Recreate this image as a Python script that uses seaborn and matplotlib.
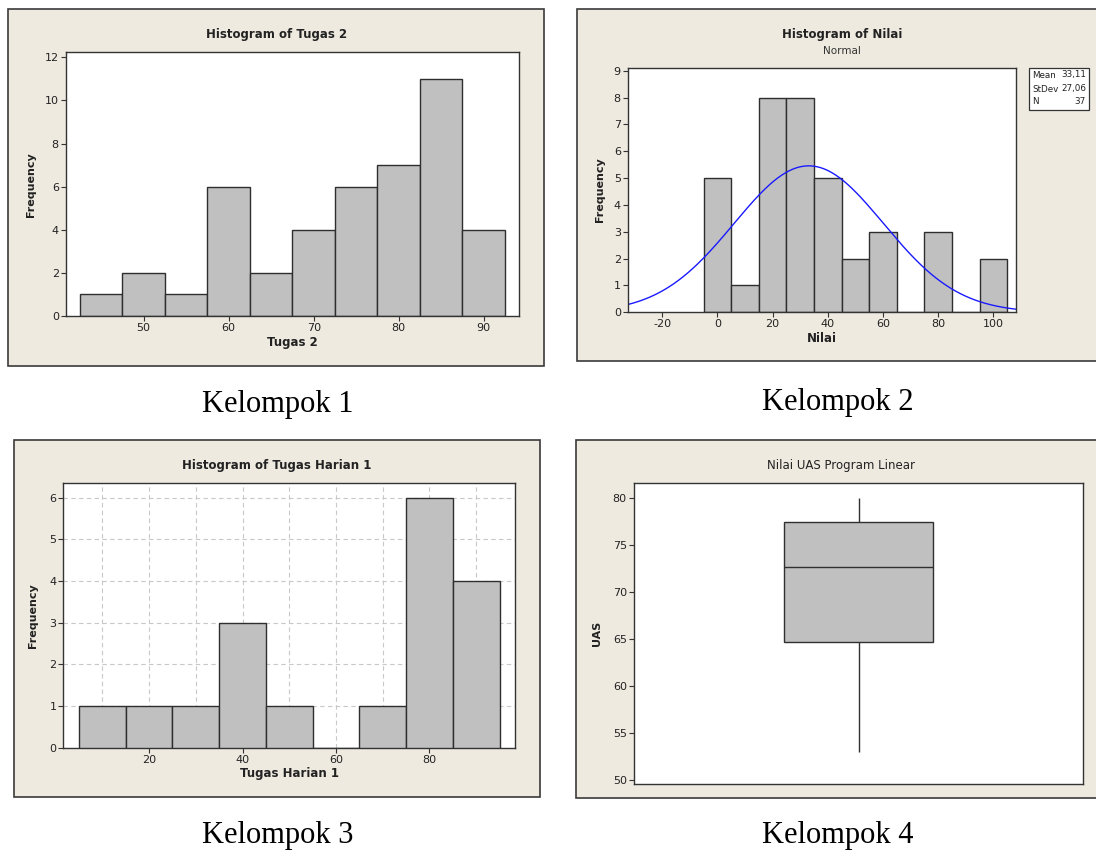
import numpy as np
import pandas as pd
import matplotlib
matplotlib.use("Agg")
import matplotlib.pyplot as plt
from matplotlib.patches import Rectangle
import seaborn as sns

# Kelompok 1 - Histogram of Tugas 2
tugas2_mid = [45, 50, 55, 60, 65, 70, 75, 80, 85, 90]
tugas2_freq = [1, 2, 1, 6, 2, 4, 6, 7, 11, 4]
tugas2_edges = [42.5, 47.5, 52.5, 57.5, 62.5, 67.5, 72.5, 77.5, 82.5, 87.5, 92.5]

# Kelompok 2 - Histogram of Nilai (Normal)
nilai_mid = [0, 10, 20, 30, 40, 50, 60, 70, 80, 90, 100]
nilai_freq = [5, 1, 8, 8, 5, 2, 3, 0, 3, 0, 2]
nilai_edges = [-5, 5, 15, 25, 35, 45, 55, 65, 75, 85, 95, 105]
nilai_mean = 33.11
nilai_sd = 27.06
nilai_n = 37

# Kelompok 3 - Histogram of Tugas Harian 1
harian_mid = [10, 20, 30, 40, 50, 60, 70, 80, 90]
harian_freq = [1, 1, 1, 3, 1, 0, 1, 6, 4]
harian_edges = [5, 15, 25, 35, 45, 55, 65, 75, 85, 95]

# Kelompok 4 - Nilai UAS Program Linear
uas = [53, 57, 60, 64.7, 66, 70, 72.7, 74, 76, 77.5, 78, 79, 80]

W, H = 1096, 852
BEIGE = "#eeeae0"
BAR = "#c0c0c0"
EDGE = "#2e2e2e"
TXT = "#222222"

sns.set_theme(style="white")
plt.rcParams["font.family"] = ["DejaVu Sans"]
plt.rcParams["axes.unicode_minus"] = False

fig = plt.figure(figsize=(W / 100, H / 100), dpi=100)
fig.patch.set_facecolor("white")


def frac(l, t, r, b):
    return [l / W, 1 - b / H, (r - l) / W, (b - t) / H]


def frame(l, t, r, b):
    fig.add_artist(Rectangle((l / W, 1 - b / H), (r - l) / W, (b - t) / H,
                             transform=fig.transFigure, facecolor=BEIGE,
                             edgecolor="#3a3a3a", lw=1.2, zorder=-5))


def style(ax):
    ax.set_facecolor("white")
    for s in ax.spines.values():
        s.set_color("#333333")
        s.set_linewidth(1.0)
        s.set_visible(True)
    ax.tick_params(axis="both", which="major", direction="out", length=3.5,
                   width=0.8, color="#333333", labelsize=8, labelcolor=TXT,
                   pad=1.5, bottom=True, left=True)


def ftext(x, y, s, **kw):
    fig.text(x / W, 1 - y / H, s, **kw)


# ---------- Kelompok 1
frame(8.3, 9.3, 544.3, 365.7)
ax1 = fig.add_axes(frac(65.7, 52.3, 519.3, 316))
sns.histplot(x=tugas2_mid, weights=tugas2_freq, bins=tugas2_edges, ax=ax1,
             color=BAR, edgecolor=EDGE, linewidth=1, alpha=1)
ax1.set_xlim(40.84, 94.18)
ax1.set_ylim(0, 12.23)
ax1.set_xticks([50, 60, 70, 80, 90])
ax1.set_yticks([0, 2, 4, 6, 8, 10, 12])
style(ax1)
ax1.set_xlabel("Tugas 2", fontsize=8.5, fontweight="bold", color=TXT, labelpad=2)
ax1.set_ylabel("Frequency", fontsize=8, fontweight="bold", color=TXT, labelpad=6)
ftext(276.3, 34.7, "Histogram of Tugas 2", fontsize=8.5, fontweight="bold",
      color=TXT, ha="center", va="center")

# ---------- Kelompok 2
frame(577.3, 9.3, 1106, 361)
ax2 = fig.add_axes(frac(627.7, 67.7, 1016, 312.3))
sns.histplot(x=nilai_mid, weights=nilai_freq, bins=nilai_edges, ax=ax2,
             color=BAR, edgecolor=EDGE, linewidth=1, alpha=1)
xs = np.linspace(-32.5, 108.2, 400)
ys = nilai_n * 10 * np.exp(-0.5 * ((xs - nilai_mean) / nilai_sd) ** 2) / (nilai_sd * np.sqrt(2 * np.pi))
sns.lineplot(x=xs, y=ys, ax=ax2, color="#1a1aff", linewidth=1)
ax2.set_xlim(-32.5, 108.2)
ax2.set_ylim(0, 9.11)
ax2.set_xticks([-20, 0, 20, 40, 60, 80, 100])
ax2.set_yticks(range(10))
style(ax2)
ax2.set_xlabel("Nilai", fontsize=8.5, fontweight="bold", color=TXT, labelpad=2)
ax2.set_ylabel("Frequency", fontsize=8, fontweight="bold", color=TXT, labelpad=6)
ftext(841.8, 34.7, "Histogram of Nilai", fontsize=8.5, fontweight="bold",
      color=TXT, ha="center", va="center")
ftext(841.8, 50.5, "Normal", fontsize=7.5, color="#333333", ha="center", va="center")
fig.add_artist(Rectangle((1029 / W, 1 - 110 / H), 60 / W, 42 / H,
                         transform=fig.transFigure, facecolor="white",
                         edgecolor="#333333", lw=0.9))
for yy, lab, val in [(75, "Mean", "33,11"), (89, "StDev", "27,06"), (101.7, "N", "37")]:
    ftext(1032, yy, lab, fontsize=6.3, color=TXT, ha="left", va="center")
    ftext(1086, yy, val, fontsize=6.3, color=TXT, ha="right", va="center")

# ---------- Kelompok 3
frame(13.7, 440.3, 540, 797.3)
ax3 = fig.add_axes(frac(63.3, 482.7, 515, 747.7))
sns.histplot(x=harian_mid, weights=harian_freq, bins=harian_edges, ax=ax3,
             color=BAR, edgecolor=EDGE, linewidth=1, alpha=1, zorder=3)
ax3.set_xlim(1.63, 98.3)
ax3.set_ylim(0, 6.36)
ax3.set_xticks([20, 40, 60, 80])
ax3.set_xticks([10, 30, 50, 70, 90], minor=True)
ax3.set_yticks(range(7))
ax3.set_axisbelow(True)
ax3.grid(True, axis="x", which="both", ls=(0, (4, 3)), color="#c8c8c8", lw=0.8)
ax3.grid(True, axis="y", which="major", ls=(0, (4, 3)), color="#c8c8c8", lw=0.8)
style(ax3)
ax3.tick_params(axis="x", which="minor", length=0)
ax3.set_xlabel("Tugas Harian 1", fontsize=8.5, fontweight="bold", color=TXT, labelpad=2)
ax3.set_ylabel("Frequency", fontsize=8, fontweight="bold", color=TXT, labelpad=8)
ftext(276.9, 465, "Histogram of Tugas Harian 1", fontsize=8.5, fontweight="bold",
      color=TXT, ha="center", va="center")

# ---------- Kelompok 4
frame(576, 440, 1106, 798.3)
ax4 = fig.add_axes(frac(633.8, 483.3, 1083.4, 784))
sns.boxplot(y=uas, ax=ax4, width=0.333, color=BAR, linecolor="#303030",
            linewidth=1, showcaps=False, fliersize=0, saturation=1)
ax4.set_xlim(-0.5, 0.5)
ax4.set_ylim(49.57, 81.6)
ax4.set_yticks([50, 55, 60, 65, 70, 75, 80])
ax4.set_xticks([])
style(ax4)
ax4.tick_params(axis="x", length=0)
ax4.set_ylabel("UAS", fontsize=8, fontweight="bold", color=TXT, labelpad=8)
ftext(841, 465.7, "Nilai UAS Program Linear", fontsize=8.5, color=TXT,
      ha="center", va="center")

# ---------- captions
cap = dict(fontsize=22, family=["Liberation Serif", "DejaVu Serif"], color="black",
           ha="center", va="center")
ftext(278, 405, "Kelompok 1", **cap)
ftext(838, 402, "Kelompok 2", **cap)
ftext(278, 835, "Kelompok 3", **cap)
ftext(838, 835, "Kelompok 4", **cap)

fig.savefig("out.png", dpi=100, facecolor="white")
